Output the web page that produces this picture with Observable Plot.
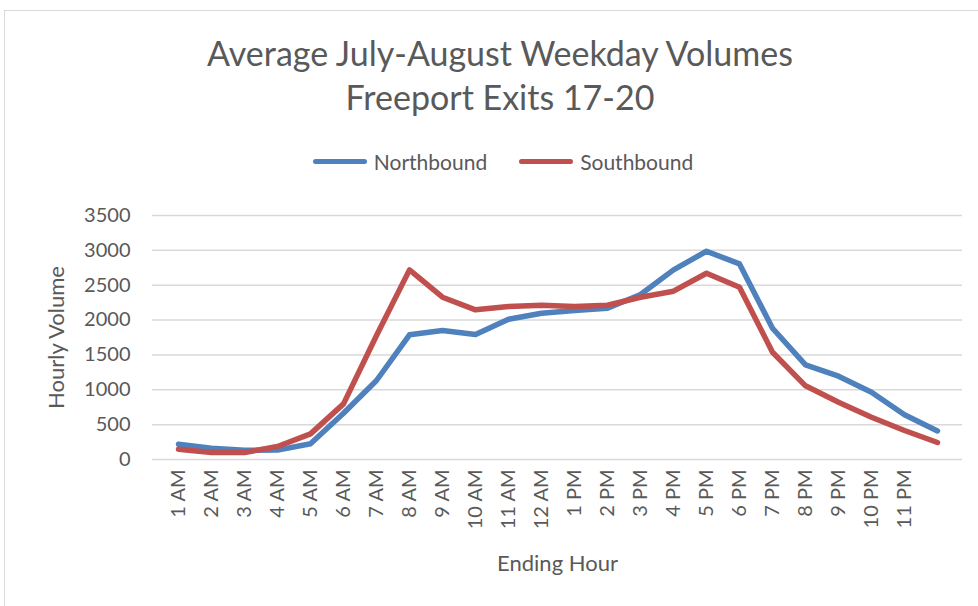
<!DOCTYPE html>
<html>
<head>
<meta charset="utf-8">
<script src="https://cdn.jsdelivr.net/npm/d3@7"></script>
<script src="https://cdn.jsdelivr.net/npm/@observablehq/plot@0.6"></script>
<style>
  html, body { margin: 0; padding: 0; background: #fff; }
  #wrap { position: relative; width: 978px; height: 606px; overflow: hidden; font-family: Lato, "Open Sans", sans-serif; color: #595959; }
  #border { position: absolute; left: 4px; top: 10px; width: 1000px; height: 700px; border: 1.5px solid #d9d9d9; box-sizing: border-box; }
  .title { position: absolute; left: 0; width: 1000px; text-align: center; font-size: 34px; font-weight: 400; color: #595959; white-space: nowrap; }
  #legend { position: absolute; top: 149px; left: 3px; width: 1000px; display: flex; justify-content: center; align-items: center; font-size: 21px; gap: 0; }
  .item { display: flex; align-items: center; margin: 0 16px; }
  .sw { width: 54px; height: 5px; border-radius: 3px; margin-right: 7px; }
  #chart { position: absolute; left: 0; top: 195px; }
</style>
</head>
<body>
<div id="wrap">
  <div id="border"></div>
  <div class="title" id="t1" style="top:32px;">Average July-August Weekday Volumes</div>
  <div class="title" id="t2" style="top:76px;">Freeport Exits 17-20</div>
  <div id="legend"></div>
  <div id="chart"></div>
</div>
<script>
const hours = [1,2,3,4,5,6,7,8,9,10,11,12,13,14,15,16,17,18,19,20,21,22,23,24];
const hourLabels = ["1 AM","2 AM","3 AM","4 AM","5 AM","6 AM","7 AM","8 AM","9 AM","10 AM","11 AM","12 AM",
  "1 PM","2 PM","3 PM","4 PM","5 PM","6 PM","7 PM","8 PM","9 PM","10 PM","11 PM",""];
const northbound = [219,160,133,135,225,664,1133,1788,1850,1792,2012,2098,2137,2170,2366,2720,2987,2806,1883,1358,1195,965,641,410];
const southbound = [148,100,100,186,368,798,1778,2720,2328,2147,2194,2213,2194,2213,2328,2414,2672,2471,1539,1057,822,607,416,244];
const seriesNames = ["Northbound","Southbound"];
const seriesColors = ["#4f81bd","#c0504d"];
const yTicks = [0,500,1000,1500,2000,2500,3000,3500];

const rows = [];
hours.forEach((h,i) => {
  rows.push({hour:h, value:northbound[i], series:seriesNames[0]});
  rows.push({hour:h, value:southbound[i], series:seriesNames[1]});
});

const leg = document.getElementById("legend");
seriesNames.forEach((n,i) => {
  const it = document.createElement("div"); it.className = "item";
  const sw = document.createElement("div"); sw.className = "sw"; sw.style.background = seriesColors[i];
  const tx = document.createElement("span"); tx.textContent = n;
  it.appendChild(sw); it.appendChild(tx); leg.appendChild(it);
});

const chart = Plot.plot({
  width: 978,
  height: 411,
  marginLeft: 152,
  marginRight: 16,
  marginTop: 20,
  marginBottom: 147,
  style: {fontFamily: "Lato, 'Open Sans', sans-serif", fontSize: "20px", color: "#595959", background: "transparent"},
  x: {type: "point", domain: hours, padding: 0.5, label: null},
  y: {domain: [0, 3500], label: null},
  color: {domain: seriesNames, range: seriesColors},
  marks: [
    Plot.gridY(yTicks, {stroke: "#d9d9d9", strokeOpacity: 1, strokeWidth: 1.5}),
    Plot.axisY(yTicks, {tickSize: 0, tickPadding: 22, fontSize: 20, tickFormat: d => String(d), label: "Hourly Volume", labelAnchor: "center", labelArrow: "none", labelOffset: 104}),
    Plot.axisX(hours, {tickSize: 0, tickPadding: 10, tickRotate: -90, fontSize: 20, tickFormat: h => hourLabels[h-1], label: "Ending Hour", labelAnchor: "center", labelArrow: "none", labelOffset: 111}),
    Plot.line(rows, {x: "hour", y: "value", z: "series", stroke: "series", strokeWidth: 5.5, strokeLinejoin: "round", strokeLinecap: "round"})
  ]
});
document.getElementById("chart").appendChild(chart);
d3.select(chart).selectAll("[aria-label='y-axis label'] text, [aria-label='x-axis label'] text").attr("font-size", 22);
d3.select(chart).selectAll("[aria-label='y-axis label'], [aria-label='x-axis label']").attr("font-size", 22);
</script>
</body>
</html>
